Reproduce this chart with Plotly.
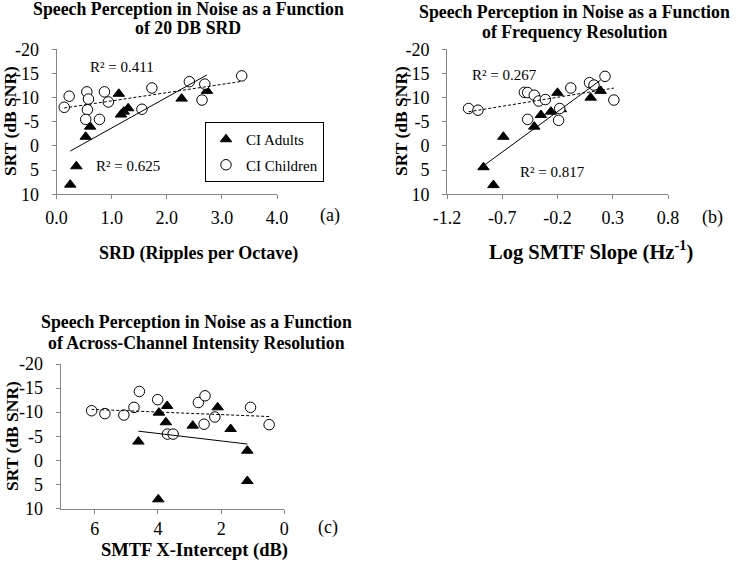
import numpy as np
import plotly.graph_objects as go

W, H = 737, 566

# ---------------- data ----------------
# Panel (a): SRD (ripples per octave)
a_adult_x = [0.25, 0.36, 0.53, 0.61, 1.13, 1.17, 1.22, 1.30, 2.27, 2.73]
a_adult_y = [8.0, 4.2, -1.9, -4.0, -10.8, -6.5, -7.1, -7.8, -9.8, -11.4]
a_child_x = [0.14, 0.23, 0.55, 0.58, 0.56, 0.53, 0.78, 0.87, 0.94, 1.55, 1.73, 2.41, 2.64, 2.69, 3.36]
a_child_y = [-8.0, -10.3, -11.2, -9.7, -7.5, -5.5, -5.5, -11.2, -9.1, -7.6, -12.0, -13.3, -9.5, -12.8, -14.5]

# Panel (b): Log SMTF slope
b_adult_x = [-0.87, -0.78, -0.69, -0.41, -0.35, -0.26, -0.20, -0.17, 0.10, 0.19]
b_adult_y = [4.4, 8.1, -1.9, -4.0, -6.4, -7.1, -11.0, -7.6, -10.0, -11.4]
b_child_x = [-1.005, -0.92, -0.50, -0.47, -0.41, -0.37, -0.31, -0.47, -0.18, -0.19, -0.08, 0.09, 0.13, 0.23, 0.31]
b_child_y = [-7.75, -7.4, -11.1, -11.05, -10.5, -9.3, -9.6, -5.5, -7.75, -5.3, -12.0, -13.1, -12.6, -14.4, -9.5]

# Panel (c): SMTF x-intercept (dB)
c_adult_x = [4.62, 3.97, 3.71, 3.75, 2.90, 2.11, 1.70, 1.17, 1.17, 3.99]
c_adult_y = [-3.9, -9.9, -11.3, -7.9, -7.2, -11.0, -6.5, -2.0, 4.3, 8.1]
c_child_x = [6.10, 5.68, 5.08, 4.76, 4.59, 4.01, 3.70, 3.52, 2.72, 2.51, 2.54, 2.20, 1.07, 0.48]
c_child_y = [-10.3, -9.7, -9.4, -11.0, -14.3, -12.6, -5.45, -5.45, -12.0, -13.4, -7.5, -9.0, -11.0, -7.4]

y_tickvals = [-20, -15, -10, -5, 0, 5, 10]
y_ticktext = ["-20", "-15", "-10", "-5", "0", "5", "10"]
a_tickvals = [0, 1, 2, 3, 4]
a_ticktext = ["0.0", "1.0", "2.0", "3.0", "4.0"]
b_tickvals = [-1.2, -0.7, -0.2, 0.3, 0.8]
b_ticktext = ["-1.2", "-0.7", "-0.2", "0.3", "0.8"]
c_tickvals = [6, 4, 2, 0]
c_ticktext = ["6", "4", "2", "0"]

r2_labels = {"a": ("R² = 0.411", "R² = 0.625"),
             "b": ("R² = 0.267", "R² = 0.817")}

FONT = "Liberation Serif"
AX = "#868686"


def px(x):
    return x / W


def py(y):
    return 1 - y / H


fig = go.Figure()

panels = [
    ("x", "y", a_adult_x, a_adult_y, a_child_x, a_child_y, True),
    ("x2", "y2", b_adult_x, b_adult_y, b_child_x, b_child_y, False),
    ("x3", "y3", c_adult_x, c_adult_y, c_child_x, c_child_y, False),
]

for xa, ya, ax_, ay_, cx_, cy_, leg in panels:
    fig.add_trace(go.Scatter(
        x=ax_, y=ay_, mode="markers", name="CI Adults", xaxis=xa, yaxis=ya,
        showlegend=leg, legendgroup="adults",
        marker=dict(symbol="triangle-up", size=10, color="black",
                    line=dict(color="black", width=1))))
    fig.add_trace(go.Scatter(
        x=cx_, y=cy_, mode="markers", name="CI Children", xaxis=xa, yaxis=ya,
        showlegend=leg, legendgroup="children",
        marker=dict(symbol="circle", size=10.5, color="white",
                    line=dict(color="black", width=1))))
    # linear trendlines (least squares) over the data range
    for xs, ys, dash in ((ax_, ay_, "solid"), (cx_, cy_, "3px,2px")):
        k, b0 = np.polyfit(xs, ys, 1)
        xl = np.array([min(xs), max(xs)])
        fig.add_trace(go.Scatter(
            x=xl, y=k * xl + b0, mode="lines", xaxis=xa, yaxis=ya,
            showlegend=False, hoverinfo="skip",
            line=dict(color="black", width=1, dash=dash)))

axis_common = dict(showgrid=False, zeroline=False, showline=True,
                   linecolor=AX, linewidth=1, ticks="outside", ticklen=4,
                   tickcolor=AX, tickwidth=1, automargin=False,
                   tickfont=dict(family=FONT, size=18, color="black"))

yax = dict(axis_common, range=[10, -20], tickmode="array",
           tickvals=y_tickvals, ticktext=y_ticktext, ticklabelstandoff=9)

fig.update_layout(
    width=W, height=H, margin=dict(l=0, r=0, t=0, b=0),
    paper_bgcolor="white", plot_bgcolor="white",
    showlegend=True,
    xaxis=dict(axis_common, domain=[px(56.5), px(277)], range=[0, 4], anchor="y",
               tickmode="array", tickvals=a_tickvals, ticktext=a_ticktext,
               ticklabelstandoff=3),
    yaxis=dict(yax, domain=[py(194.3), py(49.3)], anchor="x"),
    xaxis2=dict(axis_common, domain=[px(447), px(668)], range=[-1.2, 0.8], anchor="y2",
                tickmode="array", tickvals=b_tickvals, ticktext=b_ticktext,
                ticklabelstandoff=3),
    yaxis2=dict(yax, domain=[py(194.3), py(49.3)], anchor="x2"),
    xaxis3=dict(axis_common, domain=[px(60.7), px(284.3)], range=[7.08, 0], anchor="y3",
                tickmode="array", tickvals=c_tickvals, ticktext=c_ticktext,
                ticklabelstandoff=0),
    yaxis3=dict(yax, domain=[py(508.5), py(364)], anchor="x3"),
    legend=dict(x=px(205), y=py(122), xanchor="left", yanchor="top",
                bordercolor="black", borderwidth=1, bgcolor="white",
                font=dict(family=FONT, size=15, color="black"),
                tracegroupgap=3, traceorder="grouped"),
)


def ann(text, x, y, size, bold=False, angle=0, xanchor="center"):
    fig.add_annotation(
        text=f"<b>{text}</b>" if bold else text,
        x=px(x), y=py(y), xref="paper", yref="paper",
        xanchor=xanchor, yanchor="middle", showarrow=False, textangle=angle,
        font=dict(family=FONT, size=size, color="black"))


# titles
ann("Speech Perception in Noise as a Function", 188, 9, 17.8, bold=True)
ann("of 20 DB SRD", 188, 28, 17.8, bold=True)
ann("Speech Perception in Noise as a Function", 574, 11.5, 17.8, bold=True)
ann("of Frequency Resolution", 574, 32, 17.8, bold=True)
ann("Speech Perception in Noise as a Function", 196, 322, 17.8, bold=True)
ann("of Across-Channel Intensity Resolution", 196, 343, 17.8, bold=True)

# axis titles
ann("SRD (Ripples per Octave)", 198, 253, 18, bold=True)
ann("Log SMTF Slope (Hz<sup>-1</sup>)", 591, 250, 20.5, bold=True)
ann("SMTF X-Intercept (dB)", 194, 550, 18.5, bold=True)
ann("SRT (dB SNR)", 10, 121, 17.5, bold=True, angle=-90)
ann("SRT (dB SNR)", 401, 121, 17.5, bold=True, angle=-90)
ann("SRT (dB SNR)", 12, 436, 17.5, bold=True, angle=-90)

# panel letters
ann("(a)", 330, 215, 18)
ann("(b)", 712, 217, 18)
ann("(c)", 328, 527, 18)

# R² labels
ann(r2_labels["a"][0], 122, 67.5, 15)
ann(r2_labels["a"][1], 128, 166, 15)
ann(r2_labels["b"][0], 504, 75, 15)
ann(r2_labels["b"][1], 552, 172, 15)

fig.write_html("out.html",
               config={"displayModeBar": False},
               post_script="document.body.style.margin='0';"
                           "document.body.style.padding='0';")
